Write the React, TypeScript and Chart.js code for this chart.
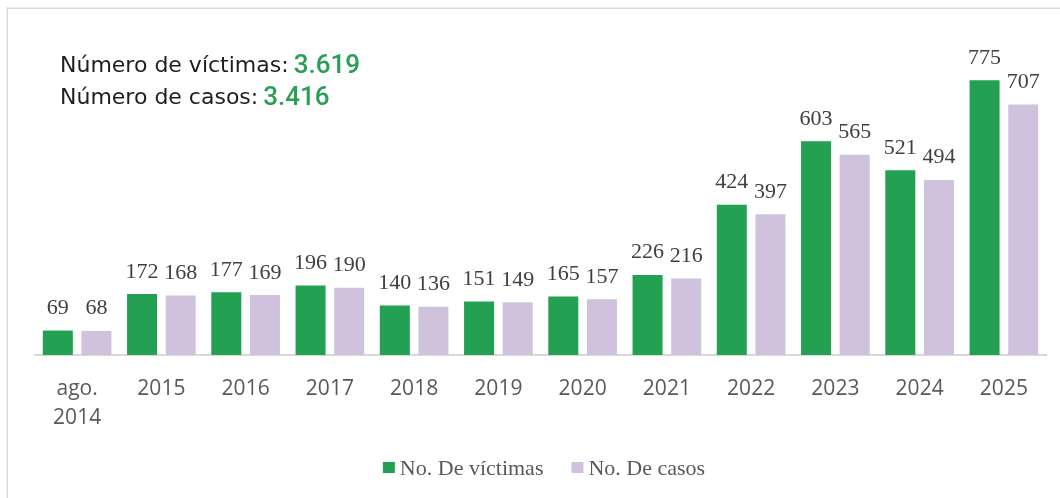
import React, { useEffect, useRef } from "react";
import { Chart, registerables } from "chart.js";

Chart.register(...registerables);

const categories: (string | string[])[] = [
  ["ago.", "2014"],
  "2015",
  "2016",
  "2017",
  "2018",
  "2019",
  "2020",
  "2021",
  "2022",
  "2023",
  "2024",
  "2025",
];
const victimas = [69, 172, 177, 196, 140, 151, 165, 226, 424, 603, 521, 775];
const casos = [68, 168, 169, 190, 136, 149, 157, 216, 397, 565, 494, 707];
const seriesLabels = ["No. De víctimas", "No. De casos"];
const seriesColors = ["#23a052", "#d0c2dd"];
const summaryLabels = ["Número de víctimas:", "Número de casos:"];

const formatThousands = (n: number) =>
  String(n).replace(/\B(?=(\d{3})+(?!\d))/g, ".");
const sum = (arr: number[]) => arr.reduce((a, b) => a + b, 0);

const customPlugin = {
  id: "customDecor",
  beforeDraw(chart: any) {
    const ctx = chart.ctx;
    ctx.save();
    ctx.fillStyle = "#dadada";
    ctx.fillRect(6.5, 7.5, 1.5, 600);
    ctx.fillRect(6.5, 7.5, 1200, 1.5);
    ctx.restore();
  },
  afterDatasetsDraw(chart: any) {
    const ctx = chart.ctx;
    ctx.save();
    ctx.font = '22px "Liberation Serif"';
    ctx.fillStyle = "#404040";
    ctx.textAlign = "center";
    ctx.textBaseline = "alphabetic";
    chart.data.datasets.forEach((ds: any, di: number) => {
      const meta = chart.getDatasetMeta(di);
      meta.data.forEach((el: any, i: number) => {
        ctx.fillText(String(ds.data[i]), el.x, el.y - 16.5);
      });
    });
    ctx.restore();
  },
  afterDraw(chart: any) {
    const ctx = chart.ctx;
    ctx.save();
    // summary block
    const totals = [sum(victimas), sum(casos)];
    const baselines = [72, 104];
    summaryLabels.forEach((lab, i) => {
      ctx.font = '22px "DejaVu Sans"';
      ctx.fillStyle = "#1e1e1e";
      ctx.textAlign = "left";
      ctx.textBaseline = "alphabetic";
      ctx.fillText(lab, 60, baselines[i]);
      const w = ctx.measureText(lab).width;
      ctx.font = '500 26px Roboto';
      ctx.fillStyle = "#27a055";
      ctx.fillText(formatThousands(totals[i]), 60 + w + 5, baselines[i] + 1);
    });
    // legend
    ctx.font = '22px "Liberation Serif"';
    const boxW = 12;
    const gap = 5;
    const itemGap = 28;
    const widths = seriesLabels.map((l) => boxW + gap + ctx.measureText(l).width);
    const total = widths.reduce((a, b) => a + b, 0) + itemGap * (widths.length - 1);
    let x = 544 - total / 2;
    seriesLabels.forEach((l, i) => {
      ctx.fillStyle = seriesColors[i];
      ctx.fillRect(x, 462, boxW, 11);
      ctx.fillStyle = "#595959";
      ctx.textAlign = "left";
      ctx.textBaseline = "alphabetic";
      ctx.fillText(l, x + boxW + gap, 475);
      x += widths[i] + itemGap;
    });
    ctx.restore();
  },
};

export default function App() {
  const canvasRef = useRef<HTMLCanvasElement | null>(null);

  useEffect(() => {
    if (!canvasRef.current) return;
    const chart = new Chart(canvasRef.current, {
      type: "bar",
      data: {
        labels: categories,
        datasets: [
          {
            label: seriesLabels[0],
            data: victimas,
            backgroundColor: seriesColors[0],
            borderWidth: 0,
            categoryPercentage: 0.917,
            barPercentage: 0.777,
          },
          {
            label: seriesLabels[1],
            data: casos,
            backgroundColor: seriesColors[1],
            borderWidth: 0,
            categoryPercentage: 0.917,
            barPercentage: 0.777,
          },
        ],
      },
      options: {
        animation: false,
        responsive: true,
        maintainAspectRatio: false,
        layout: { padding: { left: 35, right: 14, top: 36, bottom: 43 } },
        plugins: {
          legend: { display: false },
          tooltip: { enabled: false },
          title: { display: false },
        },
        scales: {
          x: {
            grid: { display: false, drawTicks: false },
            border: { display: true, color: "#d9d9d9", width: 2 },
            ticks: {
              color: "#595959",
              font: { family: "'Open Sans'", size: 21, lineHeight: 1.4 },
              padding: 19,
              autoSkip: false,
              maxRotation: 0,
              minRotation: 0,
            },
            afterFit: (scale: any) => {
              scale.height = 100;
            },
          },
          y: {
            display: false,
            min: 0,
            max: 900,
          },
        },
      },
      plugins: [customPlugin],
    });
    return () => chart.destroy();
  }, []);

  return (
    <div
      style={{
        position: "fixed",
        left: 0,
        top: 0,
        width: 1060,
        height: 498,
        background: "#ffffff",
      }}
    >
      <canvas ref={canvasRef} />
    </div>
  );
}
